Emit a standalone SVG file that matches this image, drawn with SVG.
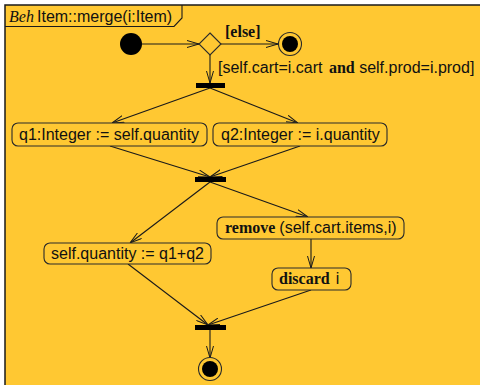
<svg xmlns="http://www.w3.org/2000/svg" width="480" height="385" viewBox="0 0 480 385">
  <defs>
    <marker id="arr" viewBox="0 0 12 8" refX="12" refY="4" markerWidth="12" markerHeight="8" markerUnits="userSpaceOnUse" orient="auto">
      <path d="M0,0.5 L12,4 L0,7.5" fill="none" stroke="#1a1a1a" stroke-width="1"/>
    </marker>
  </defs>
  <style>
    .frame { fill: #ffc832; stroke: #1a1a1a; stroke-width: 1.5; }
    .act { fill: #ffc832; stroke: #2a2a2a; stroke-width: 1.1; }
    .bar { fill: #000; }
    .edge { fill: none; stroke: #1a1a1a; stroke-width: 1.1; marker-end: url(#arr); }
    .sans { font-family: "Liberation Sans", Arial, sans-serif; font-size: 16px; fill: #111; }
    .serb { font-family: "Liberation Serif", "Times New Roman", serif; font-size: 16px; font-weight: bold; fill: #111; }
    .seri { font-family: "Liberation Serif", "Times New Roman", serif; font-size: 16px; font-style: italic; fill: #111; }
  </style>

  <rect x="0" y="0" width="480" height="385" fill="#ffffff"/>
  <!-- activity frame -->
  <rect class="frame" x="5" y="5" width="490" height="395"/>
  <path d="M5,26.5 L174,26.5 L182,18 L182,5" fill="none" stroke="#1a1a1a" stroke-width="1.1"/>
  <text x="9" y="22" class="seri">Beh</text>
  <text x="37" y="22" class="sans">Item::merge(i:Item)</text>

  <!-- connectors -->
  <g id="edges">
    <line class="edge" x1="142" y1="44" x2="199" y2="44"/>
    <line class="edge" x1="221" y1="44" x2="278" y2="44"/>
    <line class="edge" x1="210" y1="55" x2="210" y2="83"/>
    <line class="edge" x1="210" y1="88" x2="112" y2="123"/>
    <line class="edge" x1="210" y1="88" x2="298" y2="123"/>
    <line class="edge" x1="110" y1="146" x2="210" y2="177"/>
    <line class="edge" x1="300" y1="146" x2="210" y2="177"/>
    <line class="edge" x1="210" y1="182" x2="130" y2="243"/>
    <line class="edge" x1="210" y1="182" x2="308" y2="217"/>
    <line class="edge" x1="311" y1="239" x2="311" y2="268"/>
    <line class="edge" x1="128" y1="264" x2="208" y2="325"/>
    <line class="edge" x1="311" y1="290" x2="208" y2="325"/>
    <line class="edge" x1="210" y1="330" x2="210" y2="358"/>
    <text x="225" y="37" class="serb">[else]</text>
    <text x="218" y="73" class="sans">[self.cart=i.cart <tspan class="serb" dx="2">and</tspan> self.prod=i.prod]</text>
  </g>

  <g id="initial">
    <circle cx="131" cy="44" r="11" fill="#000"/>
  </g>
  <g id="decision">
    <path d="M210,33 L221,44 L210,55 L199,44 Z" class="act"/>
  </g>
  <g id="final-else">
    <circle cx="290" cy="44" r="11.5" class="act"/>
    <circle cx="290" cy="44" r="8" fill="#000"/>
  </g>
  <g id="fork">
    <rect class="bar" x="196" y="83" width="29" height="5"/>
  </g>
  <g id="q1">
    <rect class="act" x="12" y="123" width="195" height="23" rx="6"/>
    <text x="19" y="140" class="sans">q1:Integer := self.quantity</text>
  </g>
  <g id="q2">
    <rect class="act" x="213" y="123" width="174" height="23" rx="6"/>
    <text x="221" y="140" class="sans">q2:Integer := i.quantity</text>
  </g>
  <g id="join">
    <rect class="bar" x="195" y="177" width="31" height="5"/>
  </g>
  <g id="sum">
    <rect class="act" x="44" y="243" width="167" height="21" rx="6"/>
    <text x="51" y="259" class="sans">self.quantity := q1+q2</text>
  </g>
  <g id="remove">
    <rect class="act" x="217" y="217" width="187" height="22" rx="6"/>
    <text x="225" y="233" class="serb">remove <tspan class="sans" font-weight="normal">(self.cart.items,i)</tspan></text>
  </g>
  <g id="discard">
    <rect class="act" x="272" y="268" width="79" height="22" rx="6"/>
    <text x="279" y="284" class="serb">discard <tspan class="sans" font-weight="normal" dx="2">i</tspan></text>
  </g>
  <g id="join2">
    <rect class="bar" x="195" y="325" width="31" height="5"/>
  </g>
  <g id="final">
    <circle cx="210" cy="369" r="11.5" class="act"/>
    <circle cx="210" cy="369" r="8" fill="#000"/>
  </g>
</svg>
